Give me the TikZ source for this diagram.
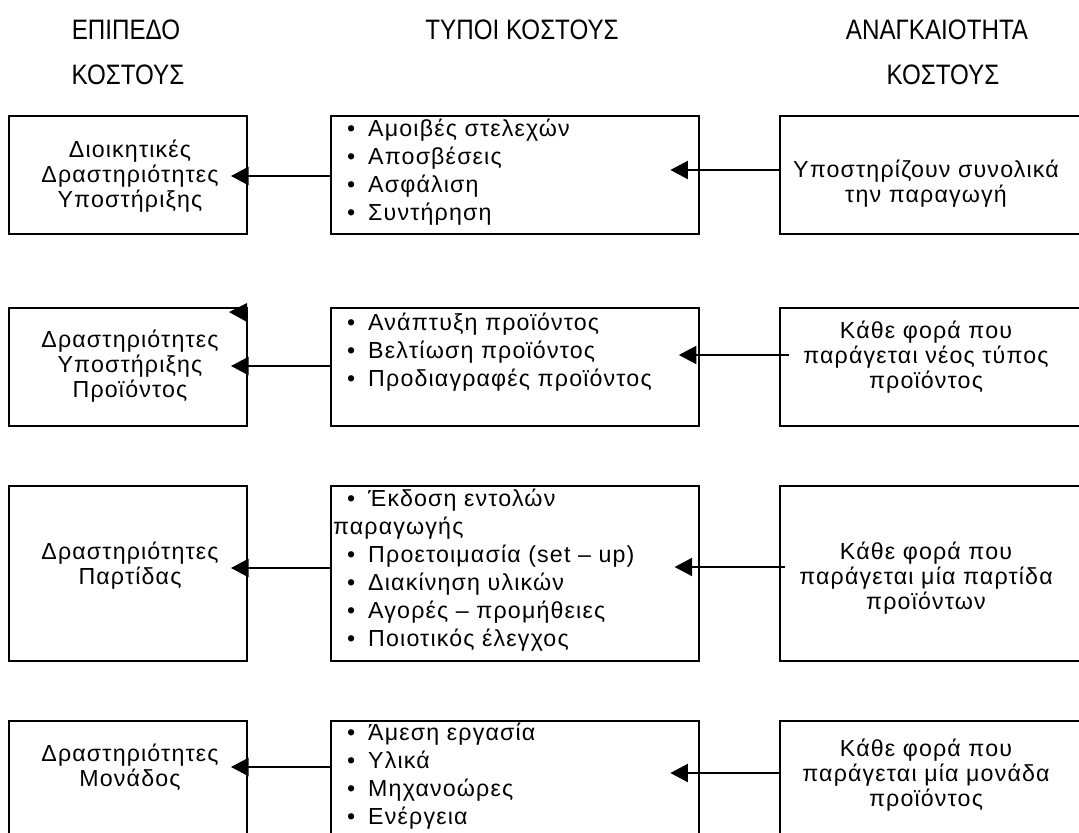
\documentclass[tikz,border=0pt]{standalone}
\usepackage{fontspec}
\setmainfont[LetterSpace=5]{Liberation Sans}
\newfontfamily\headfont[FakeStretch=0.86]{Liberation Sans}
\usetikzlibrary{arrows.meta}
\tikzset{
  x = 0.025cm,
  y = -0.025cm,
  box/.style = { % frame of a cell
    draw,
    line width = 1.3pt,
    anchor = north west, % placed by its top left corner
    inner sep = 0pt,
  },
  head/.style = { % column heading
    font = \headfont\fontsize{20pt}{22pt}\selectfont,
  },
  txt/.style = { % centred cell text
    align = center,
    inner sep = 0pt,
    font = \fontsize{16.5pt}{18pt}\selectfont,
  },
  list/.style = { % bullet list in the middle column
    align = left,
    anchor = north west,
    inner sep = 0pt,
    font = \fontsize{16.5pt}{19.9pt}\selectfont,
  },
  arr/.style = { % connector, tip runs into the frame
    -{Triangle[length=12.5pt,width=13pt]},
    line width = 1pt,
    shorten > = -#1,
  },
  arr/.default = 12pt,
}
\newcommand{\itm}{\makebox[27pt][l]{\hspace{12pt}\textbullet}} % bullet + indent

\begin{document}
\begin{tikzpicture}
  \useasboundingbox (0,0) rectangle (1079,833);
  \clip (0,0) rectangle (1079,833);
  % column heads
  \node[head] (h1a) at (126,30) {ΕΠΙΠΕΔΟ};
  \node[head] (h1b) at (128,75) {ΚΟΣΤΟΥΣ};
  \node[head] (h2)  at (522,30) {ΤΥΠΟΙ ΚΟΣΤΟΥΣ};
  \node[head] (h3a) at (937,30) {ΑΝΑΓΚΑΙΟΤΗΤΑ};
  \node[head] (h3b) at (943,75) {ΚΟΣΤΟΥΣ};
  % frames and arrows, one row at a time
  \foreach \r/\top/\h/\ya/\yb/\ext/\gap in {1/115/118/176/170/21pt/0pt,2/307/118/366/355/15pt/7pt,3/485/175/568/567/18pt/4pt,4/720/140/767/773/21pt/1pt}{
    \node[box, minimum width=5.95cm, minimum height=\h*0.025cm] (lev\r)  at (8,\top) {};
    \node[box, minimum width=9.2cm,  minimum height=\h*0.025cm] (typ\r)  at (330,\top) {};
    \node[box, minimum width=8cm,    minimum height=\h*0.025cm] (need\r) at (779,\top) {};
    \coordinate (ya\r) at (0,\ya); % height of left arrow
    \coordinate (yb\r) at (0,\yb); % height of right arrow
    \draw[arr] (typ\r.west |- ya\r) -- (lev\r.east |- ya\r);
    \draw[arr=\ext, shorten <=-\gap] (need\r.west |- yb\r) -- (typ\r.east |- yb\r); % starts a bit inside
  } % end loop
  \fill (247,303) -- (229,312) -- (247,322) -- cycle; % loose arrow tip
  % level of cost
  \node[txt] (lev1t) at (130,176) {Διοικητικές\\Δραστηριότητες\\Υποστήριξης};
  \node[txt] (lev2t) at (130,366) {Δραστηριότητες\\Υποστήριξης\\Προϊόντος};
  \node[txt] (lev3t) at (130,566) {Δραστηριότητες\\Παρτίδας};
  \node[txt] (lev4t) at (130,767) {Δραστηριότητες\\Μονάδος};
  % types of cost, hung from the top of each frame
  \node[list] (typ1t) at ([shift={(0,4)}]typ1.north west) {\itm Αμοιβές στελεχών\\\itm Αποσβέσεις\\\itm Ασφάλιση\\\itm Συντήρηση};
  \node[list] (typ2t) at ([shift={(0,6)}]typ2.north west) {\itm Ανάπτυξη προϊόντος\\\itm Βελτίωση προϊόντος\\\itm Προδιαγραφές προϊόντος};
  \node[list] (typ3t) at ([shift={(0,4)}]typ3.north west) {\itm Έκδοση εντολών\\\hspace{2pt}παραγωγής\\\itm Προετοιμασία (set – up)\\\itm Διακίνηση υλικών\\\itm Αγορές – προμήθειες\\\itm Ποιοτικός έλεγχος};
  \node[list] (typ4t) at ([shift={(0,3)}]typ4.north west) {\itm Άμεση εργασία\\\itm Υλικά\\\itm Μηχανοώρες\\\itm Ενέργεια};
  % need of cost
  \node[txt] (need1t) at (926,184) {Υποστηρίζουν συνολικά\\την παραγωγή};
  \node[txt] (need2t) at (926,357) {Κάθε φορά που\\παράγεται νέος τύπος\\προϊόντος};
  \node[txt] (need3t) at (926,578) {Κάθε φορά που\\παράγεται μία παρτίδα\\προϊόντων};
  \node[txt] (need4t) at (926,775) {Κάθε φορά που\\παράγεται μία μονάδα\\προϊόντος};
\end{tikzpicture}
\end{document}
